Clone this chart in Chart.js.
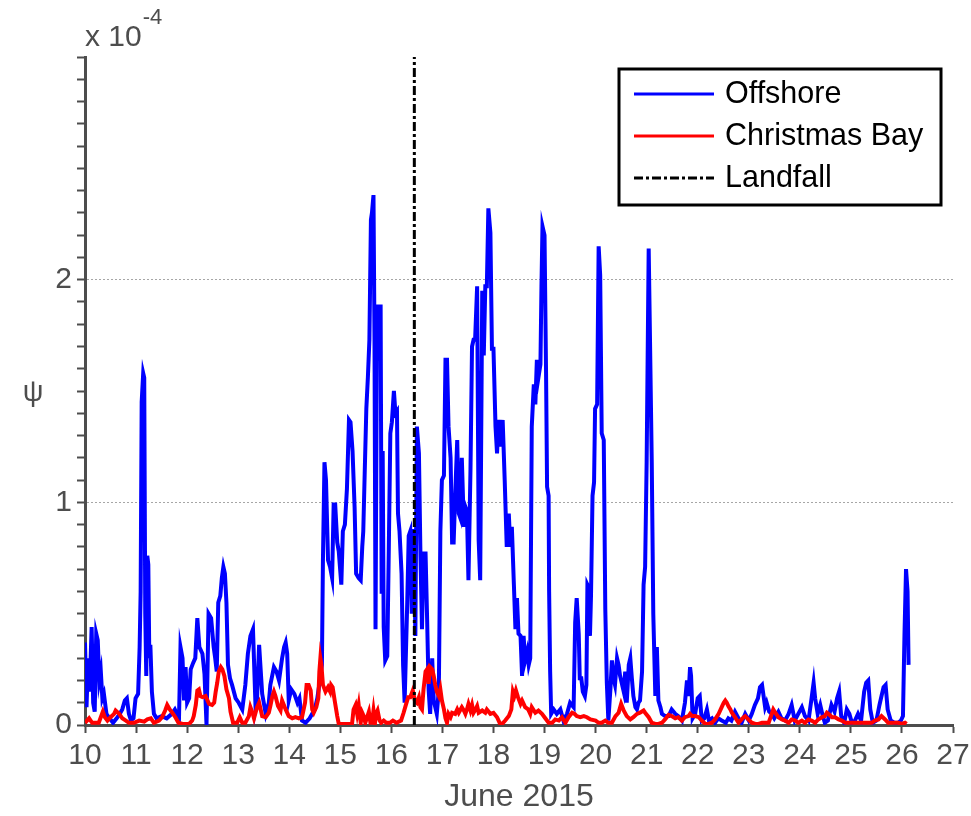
<!DOCTYPE html>
<html>
<head>
<meta charset="utf-8">
<title>Offshore vs Christmas Bay</title>
<script src="https://cdn.jsdelivr.net/npm/chart.js@4.4.1/dist/chart.umd.min.js"></script>
<style>
    html, body { margin: 0; padding: 0; background: #fff; }
    #psiChart { display: block; }
</style>
</head>
<body>
<canvas id="psiChart" width="971" height="816"></canvas>
<script>
// psi in units of 1e-4, time in days of June 2015
var offshoreDays = [
    10.00, 10.03, 10.06, 10.09, 10.13, 10.16, 10.19, 10.22, 10.25, 10.28, 10.31, 10.34, 10.37, 10.42, 10.48, 10.55,
    10.62, 10.68, 10.73, 10.78, 10.82, 10.86, 10.90, 10.95, 10.99, 11.04, 11.07, 11.09, 11.11, 11.14, 11.16, 11.18,
    11.20, 11.22, 11.24, 11.26, 11.28, 11.31, 11.35, 11.40, 11.50, 11.60, 11.70, 11.76, 11.80, 11.84, 11.87, 11.91,
    11.94, 11.97, 12.00, 12.04, 12.07, 12.12, 12.16, 12.20, 12.24, 12.30, 12.34, 12.38, 12.42, 12.47, 12.52, 12.55,
    12.58, 12.61, 12.65, 12.68, 12.71, 12.74, 12.77, 12.80, 12.84, 12.88, 12.95, 13.01, 13.08, 13.14, 13.19, 13.24,
    13.29, 13.34, 13.37, 13.41, 13.44, 13.47, 13.54, 13.60, 13.63, 13.70, 13.75, 13.80, 13.86, 13.90, 13.93, 13.96,
    13.99, 14.04, 14.10, 14.16, 14.20, 14.25, 14.32, 14.40, 14.45, 14.50, 14.55, 14.60, 14.64, 14.66, 14.69, 14.72,
    14.76, 14.80, 14.84, 14.87, 14.90, 14.94, 14.97, 15.02, 15.05, 15.09, 15.13, 15.17, 15.20, 15.24, 15.28, 15.31,
    15.36, 15.40, 15.43, 15.45, 15.48, 15.51, 15.54, 15.57, 15.60, 15.62, 15.65, 15.67, 15.69, 15.72, 15.75, 15.79,
    15.81, 15.83, 15.85, 15.88, 15.92, 15.95, 15.98, 16.01, 16.05, 16.08, 16.11, 16.13, 16.16, 16.20, 16.23, 16.26,
    16.31, 16.34, 16.37, 16.40, 16.42, 16.45, 16.47, 16.50, 16.54, 16.57, 16.60, 16.63, 16.67, 16.70, 16.73, 16.76,
    16.80, 16.83, 16.89, 16.93, 16.96, 16.99, 17.03, 17.06, 17.09, 17.12, 17.16, 17.19, 17.22, 17.25, 17.29, 17.32,
    17.35, 17.38, 17.42, 17.45, 17.48, 17.51, 17.55, 17.58, 17.61, 17.64, 17.68, 17.71, 17.74, 17.78, 17.81, 17.84,
    17.87, 17.90, 17.94, 17.97, 18.00, 18.04, 18.07, 18.10, 18.13, 18.18, 18.22, 18.26, 18.30, 18.33, 18.36, 18.40,
    18.43, 18.46, 18.49, 18.53, 18.56, 18.59, 18.62, 18.66, 18.69, 18.72, 18.75, 18.79, 18.82, 18.85, 18.88, 18.92,
    18.94, 18.96, 19.00, 19.03, 19.05, 19.08, 19.09, 19.11, 19.13, 19.18, 19.24, 19.31, 19.37, 19.44, 19.50, 19.57,
    19.60, 19.63, 19.67, 19.69, 19.72, 19.75, 19.79, 19.82, 19.84, 19.86, 19.89, 19.91, 19.94, 19.97, 19.99, 20.03,
    20.06, 20.09, 20.12, 20.16, 20.19, 20.22, 20.25, 20.29, 20.32, 20.35, 20.38, 20.42, 20.45, 20.48, 20.52, 20.55,
    20.58, 20.61, 20.65, 20.68, 20.71, 20.74, 20.78, 20.81, 20.84, 20.87, 20.91, 20.94, 20.97, 21.00, 21.04, 21.07,
    21.10, 21.13, 21.17, 21.20, 21.23, 21.27, 21.30, 21.36, 21.43, 21.49, 21.56, 21.62, 21.69, 21.75, 21.79, 21.82,
    21.85, 21.87, 21.90, 21.95, 22.00, 22.04, 22.08, 22.13, 22.18, 22.22, 22.28, 22.34, 22.40, 22.47, 22.55, 22.60,
    22.66, 22.73, 22.80, 22.86, 22.93, 23.00, 23.06, 23.12, 23.18, 23.22, 23.26, 23.29, 23.32, 23.35, 23.40, 23.45,
    23.50, 23.58, 23.64, 23.71, 23.78, 23.84, 23.90, 23.97, 24.04, 24.10, 24.17, 24.23, 24.27, 24.30, 24.35, 24.40,
    24.45, 24.49, 24.55, 24.62, 24.68, 24.73, 24.77, 24.81, 24.87, 24.92, 24.97, 25.02, 25.08, 25.14, 25.20, 25.26,
    25.30, 25.34, 25.38, 25.43, 25.50, 25.56, 25.60, 25.64, 25.68, 25.72, 25.78, 25.85, 25.92, 25.98, 26.02, 26.05,
    26.08, 26.11, 26.13
];
var offshorePsi = [
    0.37, 0.08, 0.30, 0.15, 0.44, 0.10, 0.06, 0.41, 0.38, 0.20, 0.24, 0.12, 0.14, 0.05, 0.03, 0.01,
    0.03, 0.05, 0.07, 0.11, 0.12, 0.05, 0.02, 0.03, 0.12, 0.14, 0.35, 0.60, 1.45, 1.58, 1.56, 0.50,
    0.22, 0.76, 0.72, 0.30, 0.36, 0.15, 0.05, 0.03, 0.04, 0.03, 0.05, 0.07, 0.05, 0.02, 0.35, 0.30,
    0.11, 0.26, 0.10, 0.12, 0.25, 0.28, 0.30, 0.48, 0.35, 0.32, 0.23, 0.00, 0.50, 0.48, 0.35, 0.30,
    0.24, 0.55, 0.58, 0.66, 0.71, 0.68, 0.55, 0.27, 0.21, 0.18, 0.12, 0.10, 0.07, 0.18, 0.32, 0.40,
    0.43, 0.08, 0.12, 0.36, 0.25, 0.14, 0.05, 0.10, 0.18, 0.26, 0.24, 0.20, 0.30, 0.35, 0.37, 0.32,
    0.11, 0.16, 0.14, 0.10, 0.12, 0.02, 0.01, 0.03, 0.05, 0.07, 0.12, 0.20, 0.27, 0.74, 1.18, 1.10,
    0.74, 0.71, 0.66, 0.99, 0.99, 0.82, 0.78, 0.63, 0.87, 0.90, 1.06, 1.37, 1.36, 1.23, 0.98, 0.68,
    0.66, 0.65, 0.80, 0.87, 1.15, 1.42, 1.56, 1.73, 2.27, 2.30, 2.38, 1.73, 0.43, 1.88, 1.88, 1.88,
    0.59, 1.23, 0.44, 0.29, 0.31, 0.79, 1.31, 1.36, 1.50, 1.40, 1.41, 0.95, 0.87, 0.68, 0.27, 0.10,
    0.54, 0.85, 0.87, 0.50, 0.88, 0.77, 0.40, 1.34, 1.22, 0.76, 0.43, 0.77, 0.77, 0.48, 0.16, 0.05,
    0.30, 0.11, 0.05, 0.16, 0.87, 1.10, 1.12, 1.64, 1.64, 1.34, 1.20, 0.82, 0.82, 1.03, 1.28, 0.95,
    0.93, 1.20, 0.89, 0.98, 0.96, 0.65, 1.15, 1.70, 1.73, 1.73, 1.97, 0.83, 0.65, 1.95, 1.66, 1.97,
    1.97, 2.32, 2.21, 1.69, 1.69, 1.34, 1.22, 1.37, 1.25, 1.37, 1.10, 0.80, 0.95, 0.80, 0.89, 0.63,
    0.43, 0.57, 0.41, 0.40, 0.22, 0.40, 0.29, 0.33, 0.27, 0.30, 1.34, 1.53, 1.44, 1.64, 1.56, 1.62,
    1.97, 2.24, 2.20, 1.58, 1.07, 1.03, 0.60, 0.24, 0.05, 0.07, 0.05, 0.07, 0.02, 0.05, 0.10, 0.08,
    0.46, 0.57, 0.41, 0.21, 0.21, 0.15, 0.13, 0.18, 0.63, 0.62, 0.40, 0.58, 1.03, 1.09, 1.42, 1.44,
    2.15, 2.02, 1.31, 1.28, 0.52, 0.19, 0.02, 0.16, 0.29, 0.21, 0.18, 0.30, 0.27, 0.22, 0.18, 0.15,
    0.24, 0.10, 0.27, 0.30, 0.21, 0.13, 0.08, 0.07, 0.10, 0.11, 0.24, 0.63, 0.71, 1.18, 2.14, 1.66,
    1.18, 0.50, 0.13, 0.35, 0.11, 0.08, 0.05, 0.04, 0.04, 0.07, 0.05, 0.04, 0.02, 0.10, 0.20, 0.13,
    0.26, 0.22, 0.03, 0.05, 0.12, 0.13, 0.02, 0.03, 0.07, 0.02, 0.03, 0.01, 0.03, 0.02, 0.01, 0.03,
    0.02, 0.06, 0.03, 0.01, 0.05, 0.02, 0.05, 0.09, 0.12, 0.17, 0.18, 0.13, 0.08, 0.10, 0.06, 0.05,
    0.03, 0.06, 0.03, 0.02, 0.05, 0.09, 0.02, 0.05, 0.08, 0.04, 0.02, 0.12, 0.19, 0.12, 0.05, 0.09,
    0.04, 0.01, 0.02, 0.09, 0.06, 0.12, 0.15, 0.04, 0.01, 0.07, 0.05, 0.01, 0.02, 0.05, 0.02, 0.15,
    0.19, 0.20, 0.07, 0.01, 0.02, 0.09, 0.13, 0.17, 0.18, 0.07, 0.02, 0.01, 0.01, 0.02, 0.04, 0.41,
    0.70, 0.60, 0.27
];

var bayDays = [
    10.00, 10.08, 10.14, 10.27, 10.35, 10.39, 10.44, 10.50, 10.57, 10.60, 10.67, 10.73, 10.80, 10.86, 10.96, 11.06,
    11.16, 11.22, 11.29, 11.35, 11.45, 11.51, 11.57, 11.61, 11.66, 11.71, 11.77, 11.83, 11.91, 12.04, 12.10, 12.13,
    12.17, 12.20, 12.23, 12.26, 12.30, 12.36, 12.39, 12.43, 12.49, 12.53, 12.56, 12.59, 12.62, 12.66, 12.69, 12.73,
    12.77, 12.82, 12.85, 12.90, 12.98, 13.03, 13.08, 13.14, 13.21, 13.24, 13.28, 13.31, 13.37, 13.41, 13.44, 13.47,
    13.54, 13.60, 13.63, 13.67, 13.70, 13.73, 13.78, 13.83, 13.86, 13.93, 13.99, 14.06, 14.12, 14.19, 14.25, 14.31,
    14.34, 14.38, 14.42, 14.45, 14.48, 14.53, 14.57, 14.59, 14.61, 14.63, 14.66, 14.71, 14.76, 14.80, 14.82, 14.85,
    14.89, 14.94, 14.97, 15.10, 15.23, 15.26, 15.30, 15.33, 15.36, 15.40, 15.43, 15.46, 15.49, 15.56, 15.59, 15.62,
    15.65, 15.68, 15.70, 15.73, 15.77, 15.80, 15.85, 15.90, 15.97, 16.03, 16.10, 16.19, 16.24, 16.29, 16.33, 16.37,
    16.42, 16.46, 16.50, 16.54, 16.57, 16.60, 16.63, 16.67, 16.70, 16.73, 16.76, 16.80, 16.83, 16.86, 16.89, 16.93,
    16.96, 16.99, 17.03, 17.06, 17.09, 17.12, 17.16, 17.19, 17.25, 17.29, 17.32, 17.38, 17.42, 17.45, 17.48, 17.51,
    17.55, 17.58, 17.61, 17.65, 17.68, 17.71, 17.78, 17.84, 17.87, 17.94, 18.00, 18.07, 18.13, 18.17, 18.23, 18.30,
    18.35, 18.38, 18.41, 18.44, 18.48, 18.53, 18.56, 18.62, 18.68, 18.72, 18.75, 18.82, 18.88, 18.95, 19.00, 19.08,
    19.15, 19.21, 19.28, 19.34, 19.41, 19.47, 19.54, 19.59, 19.63, 19.70, 19.77, 19.83, 19.90, 20.00, 20.06, 20.12,
    20.19, 20.25, 20.32, 20.39, 20.45, 20.50, 20.55, 20.61, 20.68, 20.74, 20.81, 20.87, 20.94, 20.97, 21.04, 21.10,
    21.17, 21.23, 21.30, 21.36, 21.43, 21.49, 21.56, 21.62, 21.69, 21.75, 21.82, 21.85, 21.89, 21.95, 22.02, 22.08,
    22.15, 22.21, 22.28, 22.34, 22.41, 22.47, 22.51, 22.54, 22.57, 22.60, 22.64, 22.67, 22.73, 22.80, 22.86, 22.90,
    22.93, 22.99, 23.06, 23.13, 23.19, 23.26, 23.32, 23.39, 23.45, 23.48, 23.52, 23.58, 23.65, 23.71, 23.78, 23.84,
    23.91, 23.97, 24.04, 24.10, 24.17, 24.23, 24.30, 24.36, 24.43, 24.49, 24.53, 24.56, 24.63, 24.69, 24.76, 24.82,
    24.89, 25.02, 25.15, 25.28, 25.41, 25.47, 25.54, 25.60, 25.67, 25.73, 25.80, 25.93, 25.99, 26.06, 26.09
];
var bayPsi = [
    0.010, 0.030, 0.010, 0.010, 0.060, 0.035, 0.020, 0.035, 0.050, 0.065, 0.050, 0.030, 0.020, 0.010, 0.010, 0.020,
    0.015, 0.025, 0.030, 0.010, 0.020, 0.035, 0.065, 0.090, 0.070, 0.055, 0.035, 0.010, 0.005, 0.005, 0.020, 0.040,
    0.090, 0.155, 0.160, 0.130, 0.125, 0.130, 0.115, 0.095, 0.090, 0.100, 0.150, 0.190, 0.240, 0.260, 0.250, 0.220,
    0.160, 0.120, 0.060, 0.010, 0.010, 0.035, 0.010, 0.010, 0.040, 0.080, 0.055, 0.030, 0.080, 0.100, 0.070, 0.040,
    0.035, 0.055, 0.085, 0.130, 0.150, 0.130, 0.085, 0.065, 0.110, 0.070, 0.040, 0.030, 0.035, 0.030, 0.035, 0.100,
    0.180, 0.180, 0.155, 0.070, 0.055, 0.080, 0.120, 0.240, 0.300, 0.270, 0.180, 0.150, 0.170, 0.150, 0.180, 0.170,
    0.110, 0.040, 0.005, 0.005, 0.005, 0.070, 0.090, 0.050, 0.090, 0.010, 0.055, 0.040, 0.010, 0.060, 0.010, 0.010,
    0.065, 0.010, 0.050, 0.065, 0.020, 0.010, 0.020, 0.010, 0.010, 0.020, 0.010, 0.020, 0.055, 0.095, 0.125, 0.125,
    0.155, 0.110, 0.100, 0.125, 0.080, 0.070, 0.160, 0.240, 0.250, 0.185, 0.260, 0.250, 0.220, 0.180, 0.150, 0.130,
    0.160, 0.110, 0.070, 0.030, 0.010, 0.050, 0.035, 0.055, 0.050, 0.070, 0.055, 0.080, 0.065, 0.050, 0.070, 0.095,
    0.065, 0.090, 0.055, 0.070, 0.085, 0.055, 0.065, 0.055, 0.070, 0.050, 0.055, 0.035, 0.005, 0.005, 0.020, 0.040,
    0.070, 0.150, 0.130, 0.155, 0.125, 0.095, 0.110, 0.080, 0.070, 0.050, 0.080, 0.055, 0.065, 0.050, 0.035, 0.010,
    0.010, 0.025, 0.020, 0.035, 0.010, 0.035, 0.055, 0.050, 0.040, 0.035, 0.040, 0.035, 0.025, 0.020, 0.010, 0.010,
    0.020, 0.010, 0.010, 0.040, 0.055, 0.095, 0.065, 0.040, 0.025, 0.035, 0.050, 0.055, 0.065, 0.055, 0.035, 0.010,
    0.005, 0.005, 0.010, 0.025, 0.045, 0.040, 0.030, 0.035, 0.020, 0.035, 0.040, 0.050, 0.040, 0.040, 0.035, 0.020,
    0.005, 0.005, 0.010, 0.025, 0.050, 0.080, 0.100, 0.110, 0.100, 0.085, 0.070, 0.055, 0.035, 0.010, 0.025, 0.035,
    0.040, 0.025, 0.010, 0.005, 0.005, 0.010, 0.010, 0.010, 0.050, 0.070, 0.055, 0.035, 0.025, 0.020, 0.010, 0.025,
    0.020, 0.010, 0.020, 0.010, 0.025, 0.020, 0.010, 0.025, 0.035, 0.040, 0.055, 0.050, 0.035, 0.035, 0.025, 0.020,
    0.010, 0.010, 0.010, 0.010, 0.010, 0.020, 0.025, 0.040, 0.025, 0.010, 0.010, 0.010, 0.005, 0.010, 0.005
];

var landfallDay = 16.45;
var dayRange = [10, 27];
var psiRange = [0, 3];
var psiLabels = [0, 1, 2];

var axisColor = '#4d4d4d';
var fontFamily = '"Liberation Sans", Arial, Helvetica, sans-serif';

function toPoints(xs, ys) {
    return xs.map(function (x, i) { return { x: x, y: ys[i] }; });
}

function isLabelled(value) {
    return psiLabels.some(function (v) { return Math.abs(v - value) < 1e-6; });
}

// Boxed legend in the upper right, exponent above the y axis and the psi label
var figureText = {
    id: 'figureText',
    afterDraw: function (chart) {
        var c = chart.ctx;
        var area = chart.chartArea;
        c.save();

        // x 10^-4 multiplier
        c.fillStyle = axisColor;
        c.textBaseline = 'alphabetic';
        c.textAlign = 'left';
        c.font = '30px ' + fontFamily;
        c.fillText('x 10', area.left, area.top - 11);
        var w = c.measureText('x 10').width;
        c.font = '22px ' + fontFamily;
        c.fillText('-4', area.left + w + 1, area.top - 33);

        // y label
        c.font = '29px ' + fontFamily;
        c.textAlign = 'center';
        c.textBaseline = 'middle';
        c.fillText('\u03c8', 33, (area.top + area.bottom) / 2 + 2);

        // legend
        var boxW = 322, boxH = 136;
        var bx = area.right - 12 - boxW;
        var by = area.top + 12;
        c.fillStyle = '#ffffff';
        c.fillRect(bx, by, boxW, boxH);
        c.lineWidth = 3;
        c.strokeStyle = '#000000';
        c.strokeRect(bx, by, boxW, boxH);

        c.font = '30.5px ' + fontFamily;
        c.textAlign = 'left';
        chart.data.datasets.forEach(function (ds, i) {
            var y = by + 25 + i * 42;
            c.strokeStyle = ds.borderColor;
            c.lineWidth = 3;
            c.setLineDash(ds.borderDash || []);
            c.beginPath();
            c.moveTo(bx + 15, y);
            c.lineTo(bx + 95, y);
            c.stroke();
            c.setLineDash([]);
            c.fillStyle = '#000000';
            c.fillText(ds.label, bx + 106, y + 1);
        });
        c.restore();
    }
};

var ctx = document.getElementById('psiChart').getContext('2d');

new Chart(ctx, {
    type: 'line',
    data: {
        datasets: [
            {
                label: 'Offshore',
                data: toPoints(offshoreDays, offshorePsi),
                borderColor: '#0000ff',
                borderWidth: 4,
                pointRadius: 0,
                tension: 0,
                order: 3
            },
            {
                label: 'Christmas Bay',
                data: toPoints(bayDays, bayPsi),
                borderColor: '#ff0000',
                borderWidth: 4,
                pointRadius: 0,
                tension: 0,
                order: 2
            },
            {
                label: 'Landfall',
                data: [{ x: landfallDay, y: psiRange[0] }, { x: landfallDay, y: psiRange[1] }],
                borderColor: '#000000',
                borderWidth: 3,
                borderDash: [9, 3, 3, 3],
                pointRadius: 0,
                order: 1
            }
        ]
    },
    options: {
        responsive: false,
        animation: false,
        layout: {
            padding: { top: 57, right: 18, left: 0, bottom: 0 }
        },
        plugins: {
            legend: { display: false },
            tooltip: { enabled: false }
        },
        scales: {
            x: {
                type: 'linear',
                min: dayRange[0],
                max: dayRange[1],
                ticks: {
                    stepSize: 1,
                    autoSkip: false,
                    maxRotation: 0,
                    color: axisColor,
                    padding: 5,
                    font: { family: fontFamily, size: 30 }
                },
                grid: {
                    drawOnChartArea: false,
                    tickLength: 8,
                    tickWidth: 2,
                    tickColor: axisColor
                },
                border: { display: true, color: axisColor, width: 3 },
                title: {
                    display: true,
                    text: 'June 2015',
                    color: axisColor,
                    font: { family: fontFamily, size: 32 },
                    padding: { top: 0, bottom: 0 }
                },
                afterFit: function (scale) {
                    scale.height = 91;
                    scale.paddingLeft = 0;
                    scale.paddingRight = 0;
                }
            },
            y: {
                min: psiRange[0],
                max: psiRange[1],
                ticks: {
                    stepSize: 0.1,
                    autoSkip: false,
                    maxTicksLimit: 100,
                    color: axisColor,
                    padding: 5,
                    font: { family: fontFamily, size: 30 },
                    callback: function (value) {
                        return isLabelled(value) ? String(Math.round(value)) : '';
                    }
                },
                grid: {
                    color: function (context) {
                        var v = context.tick ? context.tick.value : 0;
                        return (v > 0.5 && isLabelled(v)) ? '#a6a6a6' : 'rgba(0,0,0,0)';
                    },
                    lineWidth: 1,
                    tickLength: 8,
                    tickWidth: 2,
                    tickColor: axisColor,
                    tickBorderDash: []
                },
                border: { display: true, color: axisColor, width: 3, dash: [2, 2] },
                afterFit: function (scale) {
                    scale.width = 85;
                    scale.paddingTop = 0;
                    scale.paddingBottom = 0;
                }
            }
        }
    },
    plugins: [figureText]
});
</script>
</body>
</html>
